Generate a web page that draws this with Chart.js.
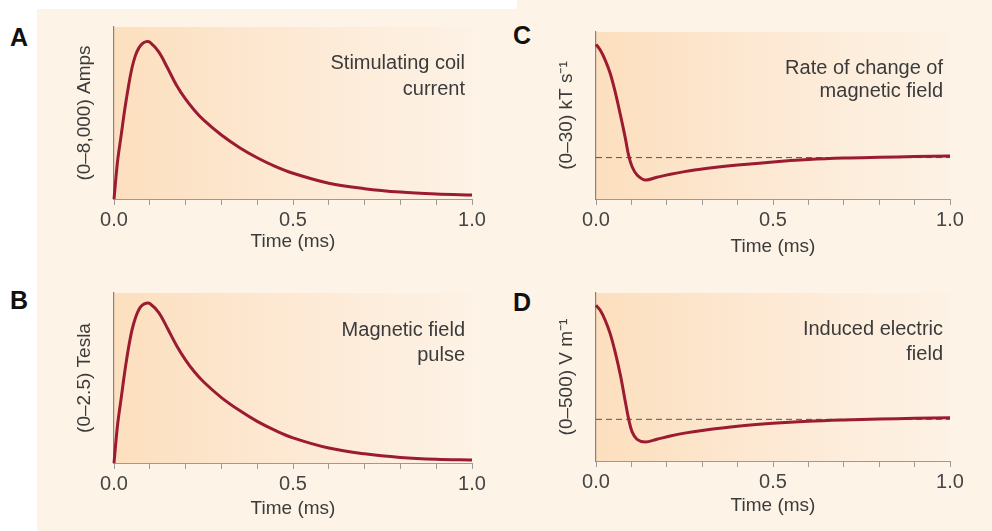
<!DOCTYPE html>
<html>
<head>
<meta charset="utf-8">
<script src="https://cdn.jsdelivr.net/npm/chart.js@4"></script>
<style>
  html, body { margin: 0; padding: 0; width: 992px; height: 531px; overflow: hidden; background: #fff;
    font-family: "Liberation Sans", Arial, sans-serif; }
  .sheet { position: absolute; background: #fdf4e7; }
  .panel { position: absolute; }
  .letter { position: absolute; font-size: 25px; line-height: 25px; font-weight: bold; color: #111; }
</style>
</head>
<body>
<div class="sheet" style="left:37px;top:9px;width:480px;height:522px"></div>
<div class="sheet" style="left:517px;top:0;width:475px;height:531px"></div>

<div class="letter" style="left:10px;top:25px">A</div>
<div class="letter" style="left:10px;top:288px">B</div>
<div class="letter" style="left:513px;top:23px">C</div>
<div class="letter" style="left:513px;top:290px">D</div>

<canvas id="panelA" class="panel" width="463" height="248" style="left:37px;top:9px"></canvas>
<canvas id="panelB" class="panel" width="463" height="249" style="left:37px;top:275px"></canvas>
<canvas id="panelC" class="panel" width="459" height="248" style="left:519px;top:14px"></canvas>
<canvas id="panelD" class="panel" width="459" height="246" style="left:519px;top:275px"></canvas>

<script>
// ─── Data (fraction of each panel's full y range, time in ms) ─────────────────
const pulseTime = [0, 0.01, 0.02, 0.03, 0.04, 0.05, 0.06, 0.07, 0.08, 0.09, 0.1, 0.125, 0.15, 0.175,
  0.2, 0.225, 0.25, 0.3, 0.35, 0.4, 0.45, 0.5, 0.6, 0.7, 0.8, 0.9, 1.0];
const coilCurrent = [0, 0.22, 0.37, 0.52, 0.65, 0.76, 0.835, 0.88, 0.905, 0.915, 0.912, 0.855, 0.76, 0.66,
  0.58, 0.515, 0.46, 0.372, 0.30, 0.24, 0.19, 0.15, 0.092, 0.06, 0.04, 0.029, 0.023];
const fieldPulse = [0, 0.225, 0.38, 0.535, 0.67, 0.78, 0.855, 0.905, 0.93, 0.94, 0.938, 0.885, 0.79, 0.69,
  0.605, 0.535, 0.478, 0.385, 0.31, 0.245, 0.192, 0.148, 0.088, 0.054, 0.033, 0.022, 0.018];

const rateTime = [0, 0.012, 0.026, 0.04, 0.054, 0.069, 0.083, 0.092, 0.102, 0.116, 0.139, 0.172, 0.21,
  0.25, 0.3, 0.4, 0.5, 0.6, 0.7, 0.8, 0.9, 1.0];
const fieldRate = [0.926, 0.892, 0.832, 0.753, 0.643, 0.503, 0.363, 0.263, 0.193, 0.144, 0.114, 0.13, 0.148,
  0.164, 0.18, 0.203, 0.222, 0.236, 0.245, 0.25, 0.254, 0.257];
const inducedField = [0.927, 0.897, 0.838, 0.758, 0.649, 0.51, 0.351, 0.252, 0.173, 0.129, 0.113, 0.129, 0.149,
  0.166, 0.182, 0.207, 0.224, 0.236, 0.244, 0.25, 0.254, 0.258];

const zeroTime = [0, 1];
const zeroLevel = [0.248, 0.248];

const labeledTicks = [0, 0.5, 1.0];

// ─── Plugins ───────────────────────────────────────────────────────────────────
const plotBackground = {
  id: 'plotBackground',
  beforeDraw(chart) {
    const { ctx, chartArea: a } = chart;
    const g = ctx.createLinearGradient(a.left, 0, a.right, 0);
    g.addColorStop(0, '#fcdfbe');
    g.addColorStop(0.5, '#fde9d4');
    g.addColorStop(1, '#fdf2e5');
    ctx.save();
    ctx.fillStyle = g;
    ctx.fillRect(a.left, a.top, a.right - a.left, a.bottom - a.top);
    ctx.restore();
  }
};

const panelNote = {
  id: 'panelNote',
  afterDraw(chart, args, opts) {
    if (!opts.lines) return;
    const { ctx, chartArea: a } = chart;
    ctx.save();
    ctx.font = '20px "Liberation Sans", Arial, sans-serif';
    ctx.fillStyle = '#3b3b3b';
    ctx.textAlign = 'right';
    ctx.textBaseline = 'alphabetic';
    opts.lines.forEach((line, i) => ctx.fillText(line, a.right - 7, a.top + opts.baselines[i]));
    ctx.restore();
  }
};

Chart.defaults.font.family = '"Liberation Sans", Arial, sans-serif';

// ─── Panel builder ─────────────────────────────────────────────────────────────
function makePanel(p) {
  const datasets = [{
    data: p.t.map((x, i) => ({ x, y: p.v[i] })),
    borderColor: '#9b1b30',
    borderWidth: 3,
    pointRadius: 0,
    tension: 0.35,
    clip: 6
  }];
  if (p.zero) {
    datasets.push({
      data: zeroTime.map((x, i) => ({ x, y: zeroLevel[i] })),
      borderColor: '#555',
      borderWidth: 1,
      borderDash: [6, 4],
      pointRadius: 0
    });
  }

  new Chart(document.getElementById(p.id), {
    type: 'line',
    data: { datasets },
    options: {
      responsive: false,
      animation: false,
      events: [],
      layout: { padding: { left: 36, top: 18, right: 28, bottom: 4 } },
      plugins: {
        legend: { display: false },
        tooltip: { enabled: false },
        panelNote: { lines: p.note, baselines: p.noteY }
      },
      scales: {
        x: {
          type: 'linear', min: 0, max: 1,
          ticks: {
            stepSize: 0.1, autoSkip: false, maxRotation: 0, padding: 3,
            color: '#454545', font: { size: 20 },
            callback: v => labeledTicks.some(l => Math.abs(l - v) < 1e-6) ? v.toFixed(1) : ''
          },
          grid: { drawOnChartArea: false, drawTicks: true, tickLength: 6, color: '#9a9a9a', lineWidth: 1 },
          border: { color: '#9a9a9a', width: 1 },
          title: { display: true, text: 'Time (ms)', color: '#3b3b3b', font: { size: 19 }, padding: 0 },
          afterFit: s => { s.height = p.xH; }
        },
        y: {
          min: 0, max: 1,
          ticks: { display: false },
          grid: { display: false, drawTicks: false },
          border: { color: '#8c8378', width: 1.2 },
          title: { display: true, text: p.yTitle, color: '#3b3b3b', font: { size: 19 }, padding: 0 },
          afterFit: s => { s.width = 41; }
        }
      }
    },
    plugins: [plotBackground, panelNote]
  });
}

makePanel({ id: 'panelA', t: pulseTime, v: coilCurrent, yTitle: '(0–8,000) Amps',
  note: ['Stimulating coil', 'current'], noteY: [42, 68], xH: 54 });
makePanel({ id: 'panelB', t: pulseTime, v: fieldPulse, yTitle: '(0–2.5) Tesla',
  note: ['Magnetic field', 'pulse'], noteY: [43, 68], xH: 57 });
makePanel({ id: 'panelC', t: rateTime, v: fieldRate, yTitle: '(0–30) kT s⁻¹', zero: true,
  note: ['Rate of change of', 'magnetic field'], noteY: [42, 65], xH: 59 });
makePanel({ id: 'panelD', t: rateTime, v: inducedField, yTitle: '(0–500) V m⁻¹', zero: true,
  note: ['Induced electric', 'field'], noteY: [42, 67], xH: 56 });
</script>
</body>
</html>
